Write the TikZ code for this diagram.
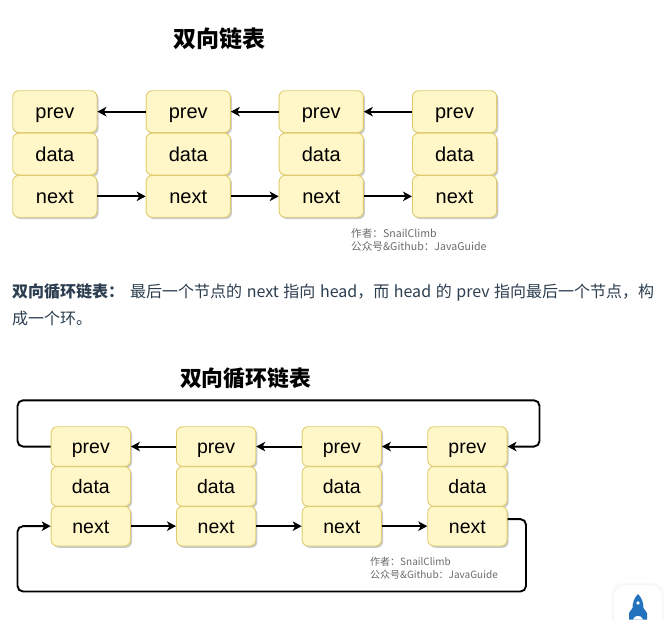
\documentclass[tikz,border=0pt]{standalone}
\usepackage{fontspec}
\setmainfont{Noto Sans CJK SC}
\newfontfamily\boxfont{Liberation Sans}
\newfontfamily\cjkfont{Noto Sans CJK SC}
\usetikzlibrary{arrows.meta,shadows,calc}
\definecolor{boxfill}{HTML}{FFF7C8}
\definecolor{boxline}{HTML}{E0CC6E}
\definecolor{bodytext}{HTML}{2C3E50}
\definecolor{rocket}{HTML}{2272BE}
\tikzset{
  cellbase/.style={draw=boxline,fill=boxfill,line width=0.9pt,rounded corners=6pt,inner sep=0pt,anchor=north west,text=black,
    general shadow={shadow xshift=1.6pt,shadow yshift=-1.8pt,fill=black!40,opacity=.5}},
  cellA/.style={cellbase,minimum width=84.2pt,minimum height=41.8pt,text height=14pt,text depth=0pt,
    font=\boxfont\fontsize{20}{20}\selectfont},
  cellB/.style={cellbase,minimum width=79.3pt,minimum height=39.6pt,text height=13.8pt,text depth=0pt,
    font=\boxfont\fontsize{19.5}{20}\selectfont},
  link/.style={draw=black,line width=1.9pt,-{Stealth[length=9pt,width=9.5pt,inset=2.5pt]}},
  loopline/.style={link,rounded corners=5.5pt},
  creditA/.style={anchor=base west,inner sep=0pt,text=black!58,font=\cjkfont\fontsize{10.6}{11}\selectfont},
  creditB/.style={anchor=base west,inner sep=0pt,text=black!58,font=\cjkfont\fontsize{10}{10}\selectfont},
  heading/.style={anchor=base,inner sep=0pt,text=black,font=\cjkfont\bfseries\fontsize{23}{23}\selectfont},
  para/.style={anchor=base west,inner sep=0pt,text=bodytext,font=\cjkfont\fontsize{16}{16}\selectfont}
}
\begin{document}
\begin{tikzpicture}[x=1pt,y=-1pt]
\useasboundingbox (0,0) rectangle (664,619);
\fill[white] (0,0) rectangle (664,619);

\node[heading] (t1) at (219,47) {双向链表};

% first list
\foreach \n/\x in {1/12.3,2/145.7,3/278.7,4/412}{
  \node[cellA] (ap\n) at (\x,90.3) {prev};
  \node[cellA] (ad\n) at (\x,132.7) {data};
  \node[cellA] (an\n) at (\x,175) {next};
}
\draw[link] (ap2) -- (ap1);
\draw[link] (ap3) -- (ap2);
\draw[link] (ap4) -- (ap3);
\draw[link] (an1) -- (an2);
\draw[link] (an2) -- (an3);
\draw[link] (an3) -- (an4);

\node[creditA] (c1) at (351,237) {作者：SnailClimb};
\node[creditA] (c2) at (351,250) {公众号\&Github：JavaGuide};

\node[para] (p1) at (12,297) {\textbf{双向循环链表：}};
\node[para] (p1b) at (130,297) {\spaceskip=4.6pt 最后一个节点的 next 指向 head，而 head 的 prev 指向最后一个节点，构};
\node[para] (p2) at (12,324) {成一个环。};

\node[heading,font=\cjkfont\bfseries\fontsize{21.8}{22}\selectfont] (t2) at (245.5,386) {双向循环链表};

% second list
\foreach \n/\x in {1/50.7,2/176,3/301.7,4/427.3}{
  \node[cellB] (bp\n) at (\x,426.3) {prev};
  \node[cellB] (bd\n) at (\x,466.2) {data};
  \node[cellB] (bn\n) at (\x,505.9) {next};
}
\draw[link] (bp2) -- (bp1);
\draw[link] (bp3) -- (bp2);
\draw[link] (bp4) -- (bp3);
\draw[link] (bn1) -- (bn2);
\draw[link] (bn2) -- (bn3);
\draw[link] (bn3) -- (bn4);

\coordinate (tl) at (17.5,400.3);
\coordinate (tr) at (539.5,400.3);
\coordinate (br) at (526,591.5);
\coordinate (bl) at (17.5,591.5);
\coordinate (ns) at ($(bn4.east)+(0,-7)$);
\draw[loopline] (bp1.west) -| (tl) -- (tr) |- (bp4.east);
\draw[loopline] (ns) -| (br) -- (bl) |- (bn1.west);

\node[creditB] (c3) at (370,565) {作者：SnailClimb};
\node[creditB] (c4) at (370,578) {公众号\&Github：JavaGuide};

% back-to-top button
\begin{scope}
\clip (0,0) rectangle (664,619);
\foreach \g in {3,2,1}{
  \fill[black,opacity=.012,rounded corners=13pt] (614-\g,585-\g) rectangle (662+\g,660);
}
\fill[white,rounded corners=12pt] (614,585) rectangle (662,660);
\fill[rocket] (638,594) .. controls (634,598) and (632.5,603) .. (632.5,608)
  -- (629,613) -- (629,619.5) -- (647,619.5) -- (647,613) -- (643.5,608)
  .. controls (643.5,603) and (642,598) .. (638,594) -- cycle;
\fill[white] (638,603) circle (1.8);
\fill[white] (633,619.5) .. controls (634,616.5) and (636,616) .. (638,616) .. controls (640,616) and (642,616.5) .. (643,619.5) -- cycle;
\end{scope}
\end{tikzpicture}
\end{document}
